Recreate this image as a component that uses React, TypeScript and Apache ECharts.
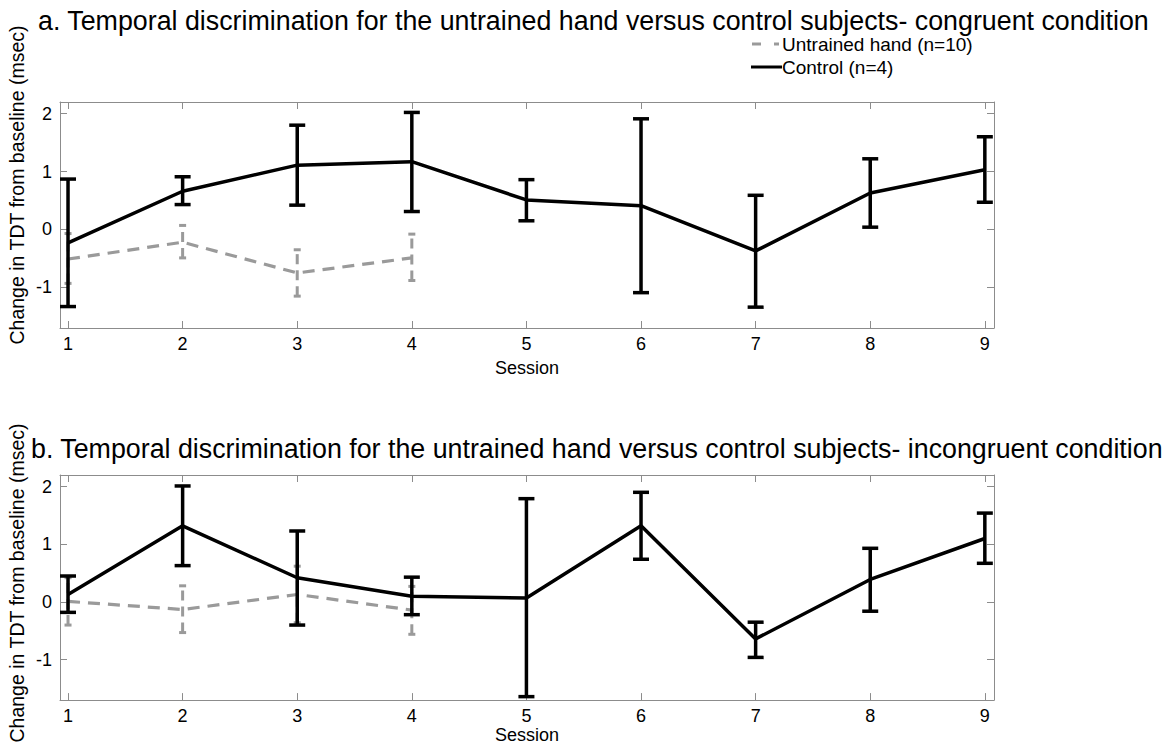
import React, { useEffect, useRef } from "react";
import * as echarts from "echarts";

// Sessions on the x axis
const sessions = [1, 2, 3, 4, 5, 6, 7, 8, 9];
const untrainedSessions = [1, 2, 3, 4];
const yTicks = [-1, 0, 1, 2];

// a. congruent condition
const congControlMean = [-0.23, 0.66, 1.11, 1.17, 0.51, 0.41, -0.37, 0.63, 1.03];
const congControlLow = [-1.33, 0.43, 0.42, 0.31, 0.15, -1.09, -1.34, 0.04, 0.47];
const congControlHigh = [0.87, 0.91, 1.8, 2.02, 0.86, 1.91, 0.59, 1.22, 1.6];
const congUntrainedMean = [-0.51, -0.22, -0.75, -0.49];
const congUntrainedLow = [-0.93, -0.49, -1.15, -0.88];
const congUntrainedHigh = [-0.07, 0.07, -0.35, -0.08];

// b. incongruent condition
const incControlMean = [0.13, 1.32, 0.42, 0.1, 0.07, 1.32, -0.64, 0.39, 1.1];
const incControlLow = [-0.18, 0.63, -0.4, -0.22, -1.64, 0.74, -0.96, -0.16, 0.67];
const incControlHigh = [0.45, 2.01, 1.23, 0.43, 1.79, 1.9, -0.35, 0.93, 1.54];
const incUntrainedMean = [0.01, -0.13, 0.13, -0.14];
const incUntrainedLow = [-0.4, -0.53, -0.36, -0.56];
const incUntrainedHigh = [0.42, 0.28, 0.62, 0.27];

const titleA =
  "a. Temporal discrimination for the untrained hand versus control subjects- congruent condition";
const titleB =
  "b. Temporal discrimination for the untrained hand versus control subjects- incongruent condition";
const yName = "Change in TDT from baseline (msec)";
const xName = "Session";
const legendUntrained = "Untrained hand (n=10)";
const legendControl = "Control (n=4)";

const FONT = "Liberation Sans, Arial, Helvetica, sans-serif";
const GRAY = "#9a9a9a";
const BLACK = "#000000";
const AXIS = "#8c8c8c";

function errorBarRenderer(capHalf: number, color: string, width: number, dash: number[] | null) {
  return (params: any, api: any) => {
    const x = api.value(0);
    const lo = api.coord([x, api.value(1)]);
    const hi = api.coord([x, api.value(2)]);
    const style: any = { stroke: color, lineWidth: width, fill: null };
    const barStyle: any = dash ? { ...style, lineDash: dash } : style;
    return {
      type: "group",
      children: [
        { type: "line", shape: { x1: lo[0], y1: lo[1], x2: hi[0], y2: hi[1] }, style: barStyle },
        { type: "line", shape: { x1: lo[0] - capHalf, y1: lo[1], x2: lo[0] + capHalf, y2: lo[1] }, style },
        { type: "line", shape: { x1: hi[0] - capHalf, y1: hi[1], x2: hi[0] + capHalf, y2: hi[1] }, style },
      ],
    };
  };
}

function zip3(xs: number[], a: number[], b: number[]) {
  return xs.map((x, i) => [x, a[i], b[i]]);
}
function zip2(xs: number[], a: number[]) {
  return xs.map((x, i) => [x, a[i]]);
}

export default function App() {
  const ref = useRef<HTMLDivElement>(null);

  useEffect(() => {
    if (!ref.current) return;
    const chart = echarts.init(ref.current, null, { renderer: "svg" });

    const grids = [
      { left: 60, top: 102, width: 934, height: 226 },
      { left: 60, top: 475, width: 934, height: 227 },
    ];
    const nameGaps = [31, 25];

    const tickStyle = (values: number[]) => ({
      show: true,
      inside: true,
      length: 7,
      lineStyle: { color: AXIS },
      customValues: values,
    });
    const lineStyle = { show: true, onZero: false, lineStyle: { color: AXIS, width: 1 } };

    const xAxes: any[] = [];
    const yAxes: any[] = [];
    grids.forEach((_, gi) => {
      const common = {
        gridIndex: gi,
        type: "value",
        min: 0.93,
        max: 9.08,
        splitLine: { show: false },
        axisLine: lineStyle,
      };
      xAxes.push({
        ...common,
        position: "bottom",
        name: xName,
        nameLocation: "middle",
        nameGap: nameGaps[gi],
        nameTextStyle: { color: "#000", fontFamily: FONT, fontSize: 18 },
        axisTick: tickStyle(sessions),
        axisLabel: { show: true, color: "#000", fontFamily: FONT, fontSize: 18, margin: 7, customValues: sessions },
      });
      xAxes.push({
        ...common,
        position: "top",
        axisTick: tickStyle(sessions),
        axisLabel: { show: false },
      });
      const ycommon = {
        gridIndex: gi,
        type: "value",
        min: -1.7,
        max: 2.2,
        splitLine: { show: false },
        axisLine: lineStyle,
      };
      yAxes.push({
        ...ycommon,
        position: "left",
        axisTick: tickStyle(yTicks),
        axisLabel: { show: true, color: "#000", fontFamily: FONT, fontSize: 18, margin: 8, customValues: yTicks },
      });
      yAxes.push({
        ...ycommon,
        position: "right",
        axisTick: tickStyle(yTicks),
        axisLabel: { show: false },
      });
    });

    const panels = [
      {
        cm: congControlMean, cl: congControlLow, ch: congControlHigh,
        um: congUntrainedMean, ul: congUntrainedLow, uh: congUntrainedHigh,
      },
      {
        cm: incControlMean, cl: incControlLow, ch: incControlHigh,
        um: incUntrainedMean, ul: incUntrainedLow, uh: incUntrainedHigh,
      },
    ];

    const series: any[] = [];
    panels.forEach((p, gi) => {
      const xi = gi * 2;
      const yi = gi * 2;
      series.push({
        name: legendUntrained,
        type: "line",
        xAxisIndex: xi,
        yAxisIndex: yi,
        data: zip2(untrainedSessions, p.um),
        symbol: "none",
        lineStyle: { color: GRAY, width: 3.2, type: [12, 8] },
        z: 2,
      });
      series.push({
        type: "custom",
        xAxisIndex: xi,
        yAxisIndex: yi,
        data: zip3(untrainedSessions, p.ul, p.uh),
        renderItem: errorBarRenderer(3.5, GRAY, 3, [10, 6]),
        encode: { x: 0, y: [1, 2] },
        z: 2,
      });
      series.push({
        name: legendControl,
        type: "line",
        xAxisIndex: xi,
        yAxisIndex: yi,
        data: zip2(sessions, p.cm),
        symbol: "none",
        lineStyle: { color: BLACK, width: 3.5 },
        z: 3,
      });
      series.push({
        type: "custom",
        xAxisIndex: xi,
        yAxisIndex: yi,
        data: zip3(sessions, p.cl, p.ch),
        renderItem: errorBarRenderer(8, BLACK, 3.5, null),
        encode: { x: 0, y: [1, 2] },
        z: 3,
      });
    });

    const yLabel = (cy: number) => ({
      type: "text",
      x: 17,
      y: cy,
      rotation: Math.PI / 2,
      style: {
        text: yName,
        fontFamily: FONT,
        fontSize: 19.5,
        fill: "#000",
        textAlign: "center",
        textVerticalAlign: "middle",
      },
    });

    chart.setOption({
      animation: false,
      backgroundColor: "#ffffff",
      title: [
        {
          text: titleA,
          left: 33,
          top: 2,
          textStyle: { fontFamily: FONT, fontSize: 26.8, fontWeight: "normal", color: "#000" },
        },
        {
          text: titleB,
          left: 26,
          top: 430,
          textStyle: { fontFamily: FONT, fontSize: 26.8, fontWeight: "normal", color: "#000" },
        },
      ],
      grid: grids,
      xAxis: xAxes,
      yAxis: yAxes,
      series,
      graphic: [
        yLabel(185),
        yLabel(583),
        {
          type: "line",
          shape: { x1: 752, y1: 44, x2: 761, y2: 44 },
          style: { stroke: GRAY, lineWidth: 3 },
        },
        {
          type: "line",
          shape: { x1: 774, y1: 44, x2: 779, y2: 44 },
          style: { stroke: GRAY, lineWidth: 3 },
        },
        {
          type: "text",
          x: 782,
          y: 44,
          style: { text: legendUntrained, fontFamily: FONT, fontSize: 19, fill: "#000", textVerticalAlign: "middle" },
        },
        {
          type: "line",
          shape: { x1: 751, y1: 67, x2: 782, y2: 67 },
          style: { stroke: BLACK, lineWidth: 3 },
        },
        {
          type: "text",
          x: 782,
          y: 67,
          style: { text: legendControl, fontFamily: FONT, fontSize: 19, fill: "#000", textVerticalAlign: "middle" },
        },
      ],
    });

    return () => chart.dispose();
  }, []);

  return (
    <div
      ref={ref}
      style={{ position: "fixed", left: 0, top: 0, width: 1168, height: 745, background: "#fff" }}
    />
  );
}
